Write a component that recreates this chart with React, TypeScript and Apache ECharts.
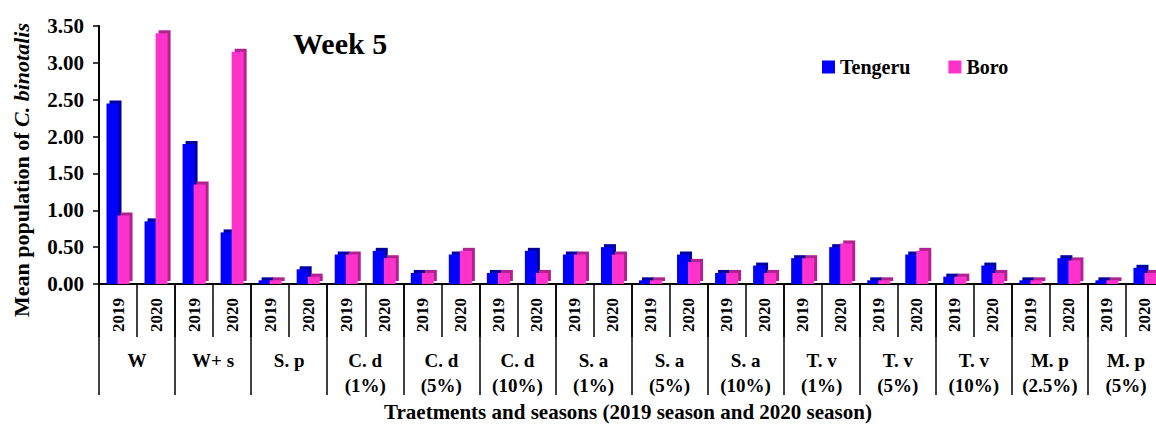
import React, { useEffect, useRef } from "react";
import * as echarts from "echarts";

const groups = [
  "W", "W+ s", "S. p",
  "C. d\n(1%)", "C. d\n(5%)", "C. d\n(10%)",
  "S. a\n(1%)", "S. a\n(5%)", "S. a\n(10%)",
  "T. v\n(1%)", "T. v\n(5%)", "T. v\n(10%)",
  "M. p\n(2.5%)", "M. p\n(5%)",
];
const seasons = ["2019", "2020"];
const tengeru = [2.45, 0.85, 1.9, 0.7, 0.05, 0.2, 0.4, 0.45, 0.15, 0.4, 0.15, 0.45, 0.4, 0.5, 0.05, 0.4, 0.15, 0.25, 0.35, 0.5, 0.05, 0.4, 0.1, 0.25, 0.05, 0.35, 0.05, 0.22];
const boro = [0.93, 3.4, 1.35, 3.15, 0.05, 0.1, 0.4, 0.35, 0.15, 0.45, 0.15, 0.15, 0.4, 0.4, 0.05, 0.3, 0.15, 0.15, 0.35, 0.55, 0.05, 0.45, 0.1, 0.15, 0.05, 0.32, 0.05, 0.15];
const yTicks = { min: 0, max: 3.5, interval: 0.5 };

const FONT = "'Liberation Serif', 'Times New Roman', serif";

export default function App() {
  const ref = useRef<HTMLDivElement>(null);
  useEffect(() => {
    if (!ref.current) return;
    const chart = echarts.init(ref.current, undefined, { renderer: "svg" });
    const categories: string[] = [];
    groups.forEach(() => seasons.forEach((s) => categories.push(s)));
    chart.setOption({
      animation: false,
      backgroundColor: "#fff",
      textStyle: { fontFamily: FONT },
      grid: { left: 99, right: 26, top: 26, bottom: 144, containLabel: false },
      legend: {
        left: 817,
        top: 52,
        itemWidth: 13,
        itemHeight: 13,
        itemGap: 38,
        icon: "rect",
        data: ["Tengeru", "Boro"],
        itemStyle: { shadowColor: "transparent", shadowBlur: 0, shadowOffsetX: 0, shadowOffsetY: 0 },
        textStyle: { fontFamily: FONT, fontWeight: "bold", fontSize: 20, color: "#000", padding: [0, 0, 0, 0] },
      },
      xAxis: [
        {
          type: "category",
          data: categories,
          position: "bottom",
          axisLine: { show: true, lineStyle: { color: "#000", width: 2 } },
          axisTick: { show: true, interval: 0, length: 53, lineStyle: { color: "#000", width: 1.5 } },
          axisLabel: {
            interval: 0,
            rotate: 90,
            margin: 14,
            fontFamily: FONT,
            fontWeight: "bold",
            fontSize: 17,
            color: "#000",
          },
        },
        {
          type: "category",
          data: groups,
          position: "bottom",
          axisLine: { show: false },
          axisTick: { show: true, interval: 0, length: 111, lineStyle: { color: "#000", width: 1.5 } },
          axisLabel: {
            interval: 0,
            margin: 64,
            lineHeight: 25,
            fontFamily: FONT,
            fontWeight: "bold",
            fontSize: 19,
            color: "#000",
          },
        },
      ],
      yAxis: {
        type: "value",
        min: yTicks.min,
        max: yTicks.max,
        interval: yTicks.interval,
        axisLine: { show: true, lineStyle: { color: "#000", width: 2 } },
        axisTick: { show: true, length: 6, lineStyle: { color: "#000", width: 1.5 } },
        splitLine: { show: false },
        axisLabel: {
          margin: 15,
          formatter: (v: number) => v.toFixed(2),
          fontFamily: FONT,
          fontWeight: "bold",
          fontSize: 21,
          color: "#000",
        },
      },
      series: [
        {
          name: "Tengeru",
          type: "bar",
          xAxisIndex: 0,
          data: tengeru,
          barWidth: 12,
          barGap: "-8%",
          itemStyle: {
            color: "#0000ff",
            shadowColor: "#0000a0",
            shadowBlur: 0,
            shadowOffsetX: 3,
            shadowOffsetY: -3,
          },
        },
        {
          name: "Boro",
          type: "bar",
          xAxisIndex: 0,
          data: boro,
          barWidth: 12,
          itemStyle: {
            color: "#ff33cc",
            shadowColor: "#b0228f",
            shadowBlur: 0,
            shadowOffsetX: 3,
            shadowOffsetY: -3,
          },
        },
      ],
      graphic: [
        {
          type: "text",
          left: 293,
          top: 28,
          style: {
            text: "Week 5",
            font: `bold 30px ${FONT}`,
            fill: "#000",
          },
        },
        {
          type: "text",
          x: 21,
          y: 170,
          rotation: Math.PI / 2,
          style: {
            text: "{a|Mean population of }{b|C. binotalis}",
            align: "center",
            verticalAlign: "middle",
            rich: {
              a: { fontFamily: FONT, fontWeight: "bold", fontSize: 22, fill: "#000" },
              b: { fontFamily: FONT, fontWeight: "bold", fontStyle: "italic", fontSize: 22, fill: "#000" },
            },
          },
        },
        {
          type: "text",
          x: 628,
          y: 412,
          style: {
            text: "Traetments and seasons (2019 season and 2020 season)",
            font: `bold 21px ${FONT}`,
            fill: "#000",
            align: "center",
            verticalAlign: "middle",
          },
        },
      ],
    });
    return () => chart.dispose();
  }, []);
  return (
    <div
      style={{
        position: "fixed",
        left: 0,
        top: 0,
        width: 1156,
        height: 428,
        overflow: "hidden",
        background: "#fff",
      }}
    >
      <div ref={ref} style={{ width: 1190, height: 428 }} />
    </div>
  );
}
